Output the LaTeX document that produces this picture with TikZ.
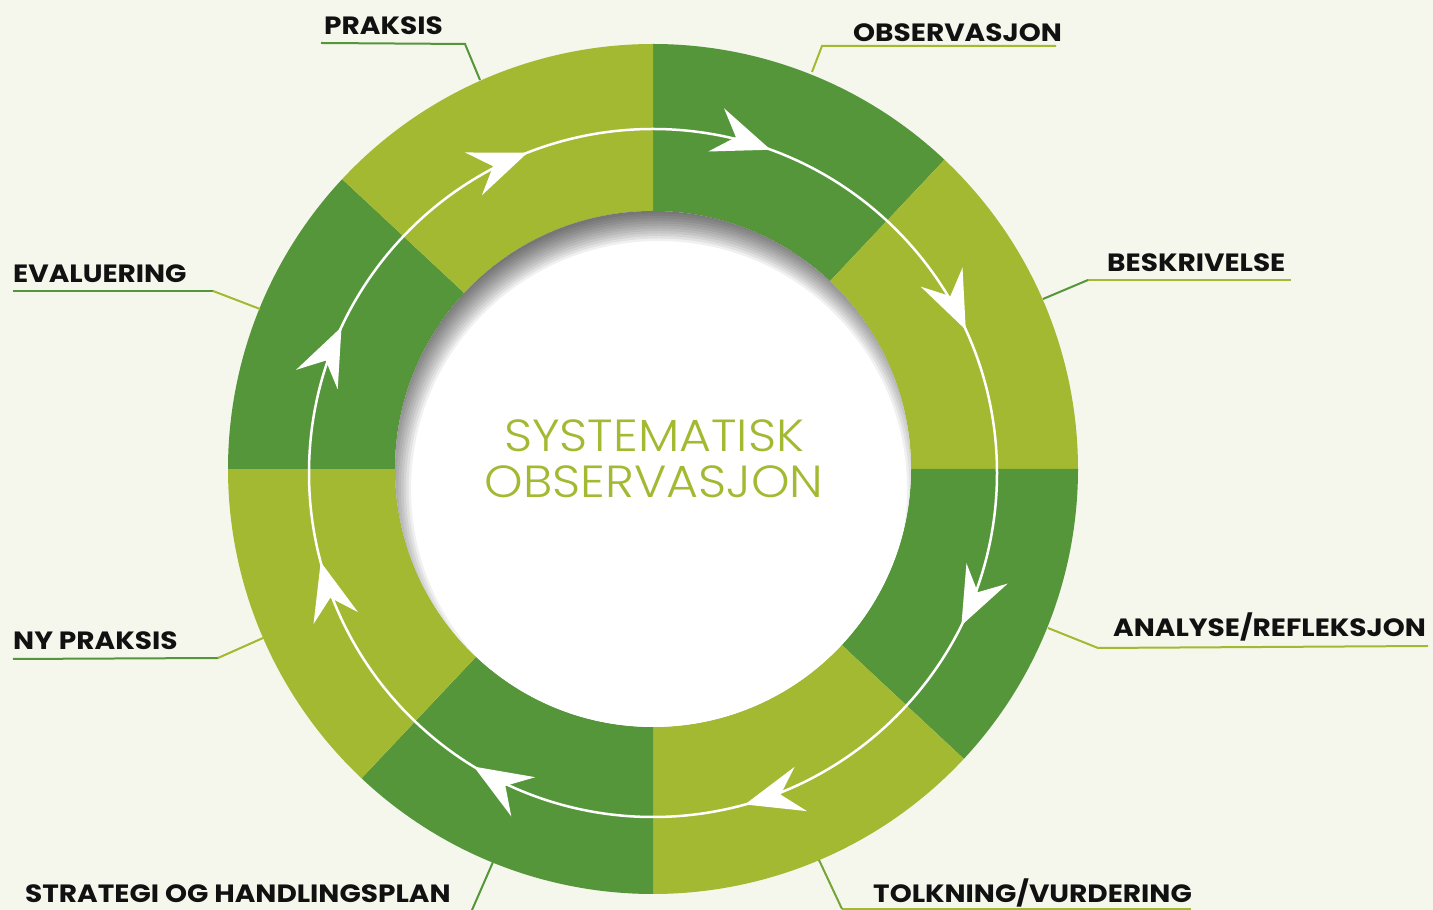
\documentclass[tikz,border=0pt]{standalone}
\usepackage{fontspec}
\newfontfamily\labelfont{Poppins}[FakeStretch=1.12]
\IfFontExistsTF{Poppins Light}{\newfontfamily\centerfont{Poppins Light}[FakeStretch=1.09]}{\newfontfamily\centerfont{Poppins}[FakeStretch=1.09]}
\definecolor{bgc}{HTML}{F5F7EC}
\definecolor{gdark}{HTML}{55963A}
\definecolor{glight}{HTML}{A4B932}
\definecolor{labelblack}{HTML}{111111}
\begin{document}
\begin{tikzpicture}[x=1pt,y=1pt,
  lbl/.style={anchor=base west, inner sep=0pt, font=\labelfont\bfseries\fontsize{25}{30}\selectfont, text=labelblack},
  ctext/.style={anchor=base, inner sep=0pt, font=\centerfont\fontsize{45}{50}\selectfont, text=glight},
  lead/.style={line width=2pt},
  arrline/.style={white, line width=2.5pt},
  arrhead/.style={fill=white}
]
\fill[bgc] (0,0) rectangle (1433,910);
\useasboundingbox (0,0) rectangle (1433,910);
\coordinate (C) at (653,441);
\begin{scope}[shift={(C)}]
  \foreach \a/\b/\col in {90/46.7/gdark, 46.7/0/glight, 0/-43/gdark, -43/-90/glight, -90/-133.3/gdark, -133.3/-180/glight, 180/137/gdark, 137/90/glight}
    \fill[\col] (\a:425) arc[start angle=\a, end angle=\b, radius=425] -- (\b:258) arc[start angle=\b, end angle=\a, radius=258] -- cycle;
  \fill[white] (0,0) circle (258);
  \begin{scope}
    \clip (0,0) circle (258);
    \foreach \i in {1,...,12}
      \fill[black, opacity=0.058, even odd rule] (0,0) circle (300) (6,-20) circle ({278-2.5*\i});
  \end{scope}
  \draw[arrline] (0,-4) circle (344);
  \foreach \a in {111.4, 70.0, 24.6, -26.3, -74.5, -121.4, -165, 154.9}
    \fill[arrhead, shift={(0,-4)}, shift={(\a:344)}, rotate=\a-90] (0,0) -- (-58,23) -- (-37,0) -- (-58,-23) -- cycle;
\end{scope}

\node[ctext] (t1) at (654,458) {SYSTEMATISK};
\node[ctext] (t2) at (654,412) {OBSERVASJON};

\node[lbl] (praksis) at (324,875) {PRAKSIS};
\node[lbl] (obs) at (853,868) {OBSERVASJON};
\node[lbl] (besk) at (1107,638) {BESKRIVELSE};
\node[lbl] (anal) at (1113,273) {ANALYSE/REFLEKSJON};
\node[lbl] (tolk) at (873,7) {TOLKNING/VURDERING};
\node[lbl] (strat) at (25,7) {STRATEGI OG HANDLINGSPLAN};
\node[lbl] (nyp) at (13,260) {NY PRAKSIS};
\node[lbl] (eval) at (13,627) {EVALUERING};

\coordinate (pA) at (321,867); \coordinate (pK) at (465,866); \coordinate (pE) at (480,830);
\coordinate (oA) at (1056,864); \coordinate (oK) at (822,864); \coordinate (oE) at (812,838);
\coordinate (bA) at (1291,630); \coordinate (bK) at (1088,630); \coordinate (bE) at (1043,611);
\coordinate (aA) at (1428,264); \coordinate (aK) at (1098,262); \coordinate (aE) at (1048,282);
\coordinate (tA) at (1191,1); \coordinate (tK) at (842,1); \coordinate (tE) at (819,50);
\coordinate (sK) at (472,0); \coordinate (sE) at (493,48);
\coordinate (nA) at (13,251); \coordinate (nK) at (218,252); \coordinate (nE) at (263,272);
\coordinate (eA) at (13,619); \coordinate (eK) at (213,619); \coordinate (eE) at (260,601);

\draw[lead, gdark] (pA) -- (pK) -- (pE);
\draw[lead, glight] (oA) -- (oK) -- (oE);
\draw[lead, glight] (bA) -- (bK);
\draw[lead, gdark] (bK) -- (bE);
\draw[lead, glight] (aA) -- (aK) -- (aE);
\draw[lead, glight] (tA) -- (tK);
\draw[lead, gdark!60!glight] (tK) -- (tE);
\draw[lead, gdark] (sK) -- (sE);
\draw[lead, gdark] (nA) -- (nK);
\draw[lead, glight] (nK) -- (nE);
\draw[lead, gdark] (eA) -- (eK);
\draw[lead, glight] (eK) -- (eE);
\end{tikzpicture}
\end{document}
